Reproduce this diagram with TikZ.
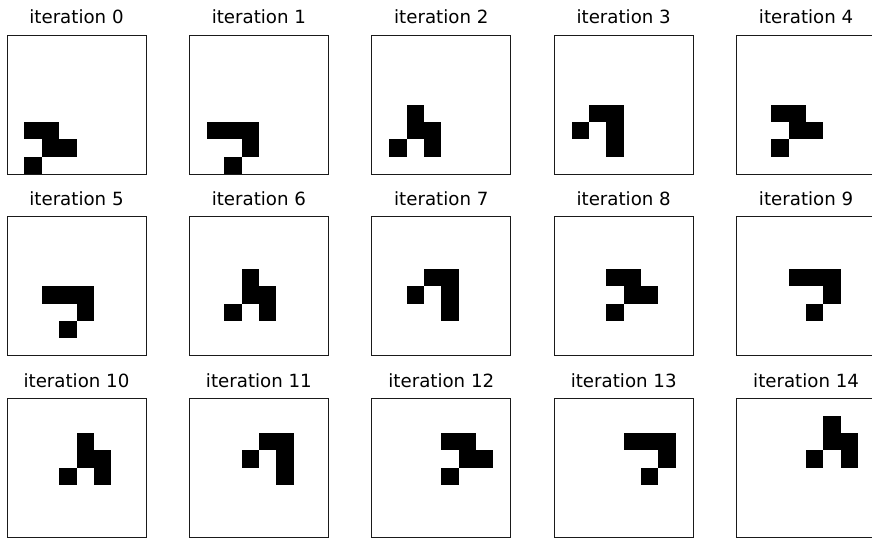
\documentclass[tikz,border=0pt]{standalone}
\usepackage{fontspec}
\usepackage{tikz}
\usetikzlibrary{positioning,calc}
\newfontfamily\titlefont{DejaVu Sans}
\definecolor{gridBlack}{HTML}{000000}
\definecolor{frameGray}{HTML}{1A1A1A}
\newcommand{\cellsize}{17.375}

\begin{document}
\begin{tikzpicture}[x=1pt, y=1pt,
    panel/.style={draw=frameGray, line width=1pt, minimum size=139pt, inner sep=0pt, outer sep=0pt},
    title/.style={anchor=base, font=\titlefont\fontsize{18.2pt}{18.2pt}\selectfont, inner sep=0pt}]
  \useasboundingbox (0,0) rectangle (872,-539);

  % Row 0
  \node[panel] (it0)  at (76.5,-104.5)  {};
  \node[panel] (it1)  at (258.9,-104.5) {};
  \node[panel] (it2)  at (441.3,-104.5) {};
  \node[panel] (it3)  at (623.7,-104.5) {};
  \node[panel] (it4)  at (806.1,-104.5) {};
  % Row 1
  \node[panel] (it5)  at (76.5,-286.15)  {};
  \node[panel] (it6)  at (258.9,-286.15) {};
  \node[panel] (it7)  at (441.3,-286.15) {};
  \node[panel] (it8)  at (623.7,-286.15) {};
  \node[panel] (it9)  at (806.1,-286.15) {};
  % Row 2
  \node[panel] (it10) at (76.5,-467.8)  {};
  \node[panel] (it11) at (258.9,-467.8) {};
  \node[panel] (it12) at (441.3,-467.8) {};
  \node[panel] (it13) at (623.7,-467.8) {};
  \node[panel] (it14) at (806.1,-467.8) {};

  % Titles
  \foreach \i in {0,...,14}
    \node[title] (t\i) at ([yshift=11.3pt]it\i.north) {iteration \i};

  % Live cells, as row/column from the top left corner
  \foreach \p/\cells in {
      0/{5/1,5/2,6/2,6/3,7/1},
      1/{5/1,5/2,5/3,6/3,7/2},
      2/{4/2,5/2,5/3,6/1,6/3},
      3/{4/2,4/3,5/1,5/3,6/3},
      4/{4/2,4/3,5/3,5/4,6/2},
      5/{4/2,4/3,4/4,5/4,6/3},
      6/{3/3,4/3,4/4,5/2,5/4},
      7/{3/3,3/4,4/2,4/4,5/4},
      8/{3/3,3/4,4/4,4/5,5/3},
      9/{3/3,3/4,3/5,4/5,5/4},
      10/{2/4,3/4,3/5,4/3,4/5},
      11/{2/4,2/5,3/3,3/5,4/5},
      12/{2/4,2/5,3/5,3/6,4/4},
      13/{2/4,2/5,2/6,3/6,4/5},
      14/{1/5,2/5,2/6,3/4,3/6}}
    \foreach \r/\c in \cells
      \fill[gridBlack] ($(it\p.north west)+(\c*\cellsize,-\r*\cellsize)$) rectangle ++(\cellsize,-\cellsize);
\end{tikzpicture}
\end{document}
